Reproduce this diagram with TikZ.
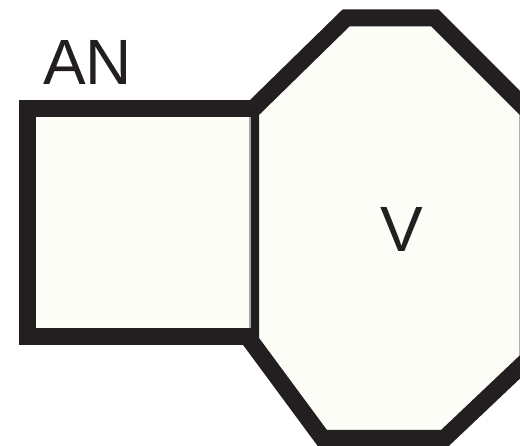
\documentclass[tikz,border=0pt]{standalone}
\usepackage{fontspec}
\setmainfont{Liberation Sans}
\definecolor{ink}{RGB}{35,31,32}
\definecolor{paper}{RGB}{253,253,248}
\begin{document}
\begin{tikzpicture}[x=1pt,y=-1pt,
  thickborder/.style={draw=ink, line width=17pt, line join=miter},
  labeltext/.style={font=\fontsize{64}{64}\selectfont, text=ink, inner sep=0pt, anchor=base}]
\useasboundingbox (0,0) rectangle (520,446);
\clip (0,0) rectangle (520,446);

% octagon corners
\coordinate (o1) at (250.5,111.4);
\coordinate (o2) at (346,18);
\coordinate (o3) at (435,18);
\coordinate (o4) at (528,111);
\coordinate (o5) at (528,359.3);
\coordinate (o6) at (444.4,438.5);
\coordinate (o7) at (322.7,438.5);
\coordinate (o8) at (250.5,340.7);

\filldraw[fill=paper, thickborder] (o1) -- (o2) -- (o3) -- (o4) -- (o5) -- (o6) -- (o7) -- (o8) -- cycle;

% square attached to the octagon's left side
\node[fill=paper, inner sep=0pt, outer sep=0pt, minimum width=223.5pt, minimum height=228pt,
      anchor=north west] (sq) at (27,109) {};
\draw[gray!70, line width=1.2pt] ([xshift=-0.6pt]sq.north east) -- ([xshift=-0.6pt]sq.south east);
\draw[thickborder, line cap=butt] (sq.north east) -- (sq.north west) -- (sq.south west) -- (sq.south east);

% labels
\node[labeltext] (an) at (87.5,85) {AN};
\node[labeltext] (v) at (401.5,252) {V};
\end{tikzpicture}
\end{document}
